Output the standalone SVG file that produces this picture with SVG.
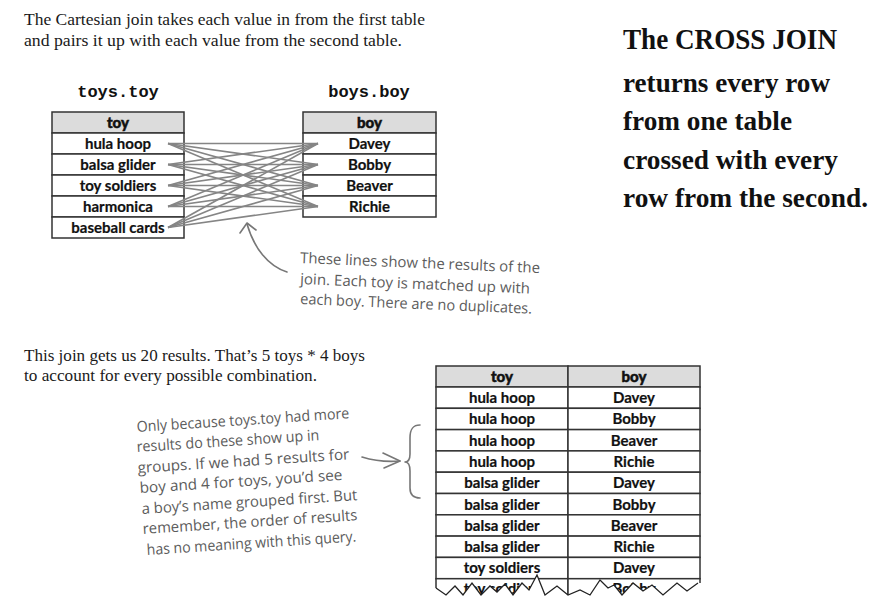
<svg xmlns="http://www.w3.org/2000/svg" width="877" height="598" viewBox="0 0 877 598">
  <style>
    .para { font-family: "Liberation Serif", serif; font-size: 16px; fill: #1a1a1a; }
    .mono { font-family: "Liberation Mono", monospace; font-size: 17px; font-weight: bold; fill: #111; text-anchor: middle; }
    .hdr { fill: #dcdcdc; stroke: #333; stroke-width: 1.5; }
    .cell { fill: #fff; stroke: #333; stroke-width: 1.5; }
    .th { font-family: Lato, "Liberation Sans", sans-serif; font-size: 15px; font-weight: 900; fill: #111; stroke: #111; stroke-width: 0.5; text-anchor: middle; }
    .td { font-family: Lato, "Liberation Sans", sans-serif; font-size: 15px; font-weight: 700; fill: #111; stroke: #111; stroke-width: 0.2; text-anchor: middle; }
    .hand { font-family: "Open Sans", "DejaVu Sans", sans-serif; font-size: 15px; fill: #5c5c5c; }
    .big { font-family: "Liberation Serif", serif; font-weight: bold; fill: #111; }
    .ink { fill: none; stroke: #777; stroke-width: 1.6; stroke-linecap: round; stroke-linejoin: round; }
    .cross line { stroke: #858585; stroke-width: 1.6; }
  </style>

  <rect width="877" height="598" fill="#fff"/>

  <!-- intro paragraph -->
  <g id="intro">
    <text class="para" x="24" y="25" textLength="401" lengthAdjust="spacingAndGlyphs">The Cartesian join takes each value in from the first table</text>
    <text class="para" x="24" y="46" textLength="378" lengthAdjust="spacingAndGlyphs">and pairs it up with each value from the second table.</text>
  </g>

  <!-- toys.toy table -->
  <g id="toys-table">
    <text class="mono" x="118" y="97">toys.toy</text>
    <rect class="hdr" x="52" y="112" width="132" height="21"/>
    <rect class="cell" x="52" y="133" width="132" height="21"/>
    <rect class="cell" x="52" y="154" width="132" height="21"/>
    <rect class="cell" x="52" y="175" width="132" height="21"/>
    <rect class="cell" x="52" y="196" width="132" height="21"/>
    <rect class="cell" x="52" y="217" width="132" height="21"/>
    <text class="th" x="118" y="128">toy</text>
    <text class="td" x="118" y="149">hula hoop</text>
    <text class="td" x="118" y="170">balsa glider</text>
    <text class="td" x="118" y="191">toy soldiers</text>
    <text class="td" x="118" y="212">harmonica</text>
    <text class="td" x="118" y="233">baseball cards</text>
  </g>

  <!-- boys.boy table -->
  <g id="boys-table">
    <text class="mono" x="369" y="97">boys.boy</text>
    <rect class="hdr" x="303" y="112" width="133" height="21"/>
    <rect class="cell" x="303" y="133" width="133" height="21"/>
    <rect class="cell" x="303" y="154" width="133" height="21"/>
    <rect class="cell" x="303" y="175" width="133" height="21"/>
    <rect class="cell" x="303" y="196" width="133" height="21"/>
    <text class="th" x="369.5" y="128">boy</text>
    <text class="td" x="369.5" y="149">Davey</text>
    <text class="td" x="369.5" y="170">Bobby</text>
    <text class="td" x="369.5" y="191">Beaver</text>
    <text class="td" x="369.5" y="212">Richie</text>
  </g>

  <!-- every toy paired with every boy -->
  <g id="connectors" class="cross">
    <line x1="168" y1="143.5" x2="318" y2="143.5"/>
    <line x1="168" y1="143.5" x2="318" y2="164.5"/>
    <line x1="168" y1="143.5" x2="318" y2="185.5"/>
    <line x1="168" y1="143.5" x2="318" y2="206.5"/>
    <line x1="168" y1="164.5" x2="318" y2="143.5"/>
    <line x1="168" y1="164.5" x2="318" y2="164.5"/>
    <line x1="168" y1="164.5" x2="318" y2="185.5"/>
    <line x1="168" y1="164.5" x2="318" y2="206.5"/>
    <line x1="168" y1="185.5" x2="318" y2="143.5"/>
    <line x1="168" y1="185.5" x2="318" y2="164.5"/>
    <line x1="168" y1="185.5" x2="318" y2="185.5"/>
    <line x1="168" y1="185.5" x2="318" y2="206.5"/>
    <line x1="168" y1="206.5" x2="318" y2="143.5"/>
    <line x1="168" y1="206.5" x2="318" y2="164.5"/>
    <line x1="168" y1="206.5" x2="318" y2="185.5"/>
    <line x1="168" y1="206.5" x2="318" y2="206.5"/>
    <line x1="168" y1="227.5" x2="318" y2="143.5"/>
    <line x1="168" y1="227.5" x2="318" y2="164.5"/>
    <line x1="168" y1="227.5" x2="318" y2="185.5"/>
    <line x1="168" y1="227.5" x2="318" y2="206.5"/>
  </g>

  <!-- note about the lines -->
  <g id="note-lines">
    <path class="ink" d="M287,272 C268,266 254,248 247,224"/>
    <path class="ink" d="M240,233 L247,223 L256,230"/>
    <text class="hand" x="300" y="263" transform="rotate(2.4 300 263)" textLength="240" lengthAdjust="spacingAndGlyphs">These lines show the results of the</text>
    <text class="hand" x="300" y="284" transform="rotate(2.4 300 284)" textLength="230" lengthAdjust="spacingAndGlyphs">join. Each toy is matched up with</text>
    <text class="hand" x="300" y="304" transform="rotate(2.4 300 304)" textLength="232" lengthAdjust="spacingAndGlyphs">each boy. There are no duplicates.</text>
  </g>

  <!-- headline -->
  <g id="headline">
    <text class="big" x="623" y="49" font-size="30" textLength="214" lengthAdjust="spacingAndGlyphs">The CROSS JOIN</text>
    <text class="big" x="623" y="92" font-size="27" textLength="207" lengthAdjust="spacingAndGlyphs">returns every row</text>
    <text class="big" x="623" y="130" font-size="27" textLength="169" lengthAdjust="spacingAndGlyphs">from one table</text>
    <text class="big" x="623" y="169" font-size="27" textLength="215" lengthAdjust="spacingAndGlyphs">crossed with every</text>
    <text class="big" x="623" y="207" font-size="27" textLength="245" lengthAdjust="spacingAndGlyphs">row from the second.</text>
  </g>

  <!-- result count paragraph -->
  <g id="count">
    <text class="para" x="24" y="361" textLength="341" lengthAdjust="spacingAndGlyphs">This join gets us 20 results. That’s 5 toys * 4 boys</text>
    <text class="para" x="24" y="381" textLength="293" lengthAdjust="spacingAndGlyphs">to account for every possible combination.</text>
  </g>

  <!-- result table -->
  <g id="result-table">
    <rect class="hdr" x="436" y="366" width="132" height="21"/>
    <rect class="hdr" x="568" y="366" width="132" height="21"/>
    <g class="rows">
      <rect class="cell" x="436" y="387" width="132" height="21.3"/><rect class="cell" x="568" y="387" width="132" height="21.3"/>
      <rect class="cell" x="436" y="408.3" width="132" height="21.3"/><rect class="cell" x="568" y="408.3" width="132" height="21.3"/>
      <rect class="cell" x="436" y="429.6" width="132" height="21.3"/><rect class="cell" x="568" y="429.6" width="132" height="21.3"/>
      <rect class="cell" x="436" y="450.9" width="132" height="21.3"/><rect class="cell" x="568" y="450.9" width="132" height="21.3"/>
      <rect class="cell" x="436" y="472.2" width="132" height="21.3"/><rect class="cell" x="568" y="472.2" width="132" height="21.3"/>
      <rect class="cell" x="436" y="493.5" width="132" height="21.3"/><rect class="cell" x="568" y="493.5" width="132" height="21.3"/>
      <rect class="cell" x="436" y="514.8" width="132" height="21.3"/><rect class="cell" x="568" y="514.8" width="132" height="21.3"/>
      <rect class="cell" x="436" y="536.1" width="132" height="21.3"/><rect class="cell" x="568" y="536.1" width="132" height="21.3"/>
      <rect class="cell" x="436" y="557.4" width="132" height="21.3"/><rect class="cell" x="568" y="557.4" width="132" height="21.3"/>
      <rect class="cell" x="436" y="578.7" width="132" height="30"/><rect class="cell" x="568" y="578.7" width="132" height="30"/>
    </g>
    <text class="th" x="502" y="382">toy</text>
    <text class="th" x="634" y="382">boy</text>
    <text class="td" x="502" y="403">hula hoop</text><text class="td" x="634" y="403">Davey</text>
    <text class="td" x="502" y="424.3">hula hoop</text><text class="td" x="634" y="424.3">Bobby</text>
    <text class="td" x="502" y="445.6">hula hoop</text><text class="td" x="634" y="445.6">Beaver</text>
    <text class="td" x="502" y="466.9">hula hoop</text><text class="td" x="634" y="466.9">Richie</text>
    <text class="td" x="502" y="488.2">balsa glider</text><text class="td" x="634" y="488.2">Davey</text>
    <text class="td" x="502" y="509.5">balsa glider</text><text class="td" x="634" y="509.5">Bobby</text>
    <text class="td" x="502" y="530.8">balsa glider</text><text class="td" x="634" y="530.8">Beaver</text>
    <text class="td" x="502" y="552.1">balsa glider</text><text class="td" x="634" y="552.1">Richie</text>
    <text class="td" x="502" y="573.4">toy soldiers</text><text class="td" x="634" y="573.4">Davey</text>
    <text class="td" x="502" y="594">toy soldiers</text><text class="td" x="634" y="594">Bobby</text>
    <!-- torn lower edge -->
    <path fill="#fff" d="M432,588 L436,588 446,595 455,586 463,595 472,583 481,595 490,586 497,592 505,584 513,595 522,583 529,590 537,575 545,595 557,586 568,595 580,590 590,595 600,580 608,588 614,585 622,595 633,583 643,591 652,585 663,595 677,583 687,591 698,583 L704,583 L704,600 L432,600 Z"/>
    <polyline fill="none" stroke="#222" stroke-width="1.3" stroke-linejoin="miter" points="436,588 446,595 455,586 463,595 472,583 481,595 490,586 497,592 505,584 513,595 522,583 529,590 537,575 545,595 557,586 568,595 580,590 590,595 600,580 608,588 614,585 622,595 633,583 643,591 652,585 663,595 677,583 687,591 698,583"/>
  </g>

  <!-- note about grouping -->
  <g id="note-groups">
    <text class="hand" x="137" y="432" transform="rotate(-3.7 137 432)" textLength="213" lengthAdjust="spacingAndGlyphs">Only because toys.toy had more</text>
    <text class="hand" x="137" y="452" transform="rotate(-3.7 137 452)" textLength="183" lengthAdjust="spacingAndGlyphs">results do these show up in</text>
    <text class="hand" x="138" y="473" transform="rotate(-3.7 138 473)" textLength="212" lengthAdjust="spacingAndGlyphs">groups. If we had 5 results for</text>
    <text class="hand" x="140" y="493" transform="rotate(-3.7 140 493)" textLength="203" lengthAdjust="spacingAndGlyphs">boy and 4 for toys, you’d see</text>
    <text class="hand" x="142" y="514" transform="rotate(-3.7 142 514)" textLength="216" lengthAdjust="spacingAndGlyphs">a boy’s name grouped first. But</text>
    <text class="hand" x="143" y="534" transform="rotate(-3.7 143 534)" textLength="215" lengthAdjust="spacingAndGlyphs">remember, the order of results</text>
    <text class="hand" x="147" y="555" transform="rotate(-3.7 147 555)" textLength="210" lengthAdjust="spacingAndGlyphs">has no meaning with this query.</text>
    <path class="ink" d="M362,457 C375,461 388,462 400,461"/>
    <path class="ink" d="M383,453 L400,461 L384,468"/>
    <path class="ink" d="M420,425 C412,425 410,430 410,438 L410,454 C410,459 408,462 405,462 C408,462 410,465 410,471 L410,488 C410,495 413,498 420,498"/>
  </g>
</svg>
